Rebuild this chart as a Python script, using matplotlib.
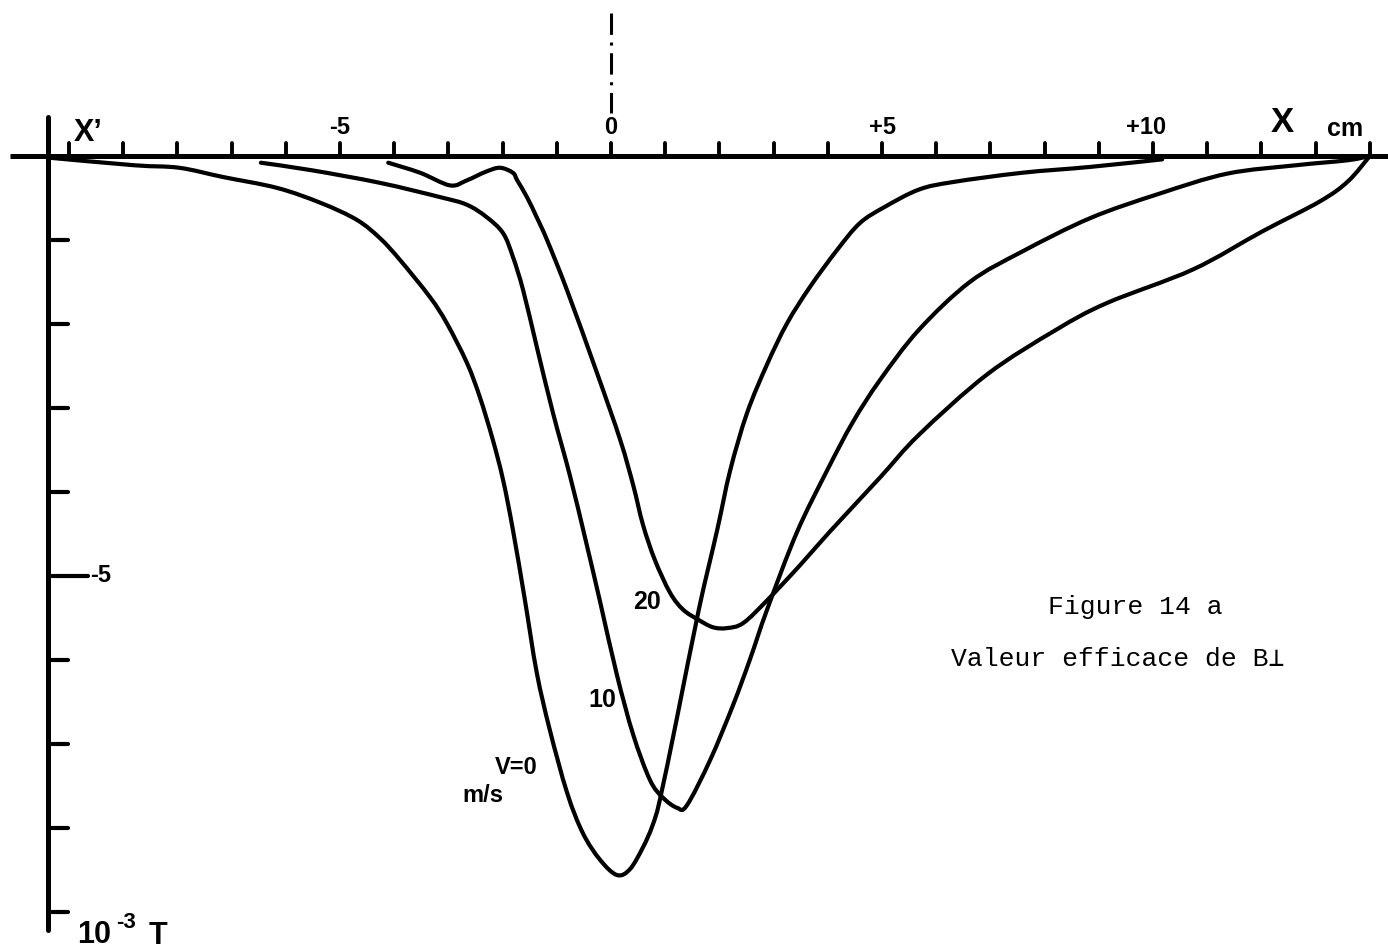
import matplotlib
matplotlib.use("Agg")
import matplotlib.pyplot as plt
from matplotlib.path import Path
from matplotlib.patches import PathPatch

# ---------------- data (x in cm, B in 1e-3 T) ----------------
x_v0 = [-10.37, -8.80, -7.97, -7.16, -6.16, -5.35, -4.69, -4.26, -3.89, -3.34,
        -3.03, -2.66, -2.42, -2.18, -1.99, -1.81, -1.59, -1.37, -1.13, -0.81,
        -0.52, -0.20, 0.11, 0.35, 0.59, 0.76, 0.90, 1.22, 1.62, 1.96,
        2.20, 2.51, 2.88, 3.25, 3.67, 4.17, 4.59, 5.04, 5.68, 6.31,
        7.58, 8.84, 10.17]
b_v0 = [-0.02, -0.11, -0.14, -0.25, -0.38, -0.56, -0.76, -0.98, -1.24, -1.68,
        -1.99, -2.46, -2.87, -3.38, -3.86, -4.45, -5.28, -6.15, -6.83, -7.58,
        -8.06, -8.38, -8.56, -8.49, -8.23, -7.98, -7.67, -6.68, -5.40, -4.45,
        -3.74, -3.06, -2.48, -1.99, -1.56, -1.12, -0.80, -0.61, -0.40, -0.31,
        -0.20, -0.13, -0.04]

x_v10 = [-6.46, -5.52, -4.26, -3.15, -2.66, -2.29, -1.99, -1.81, -1.62, -1.37,
         -1.07, -0.76, -0.48, -0.20, 0.11, 0.41, 0.72, 0.96, 1.22, 1.40,
         1.83, 2.25, 2.56, 2.88, 3.43, 3.99, 4.46, 4.96, 5.68, 6.62,
         7.58, 8.84, 10.11, 11.37, 12.64, 13.60, 14.00]
b_v10 = [-0.08, -0.17, -0.32, -0.49, -0.58, -0.73, -0.92, -1.20, -1.60, -2.27,
         -3.06, -3.80, -4.54, -5.31, -6.18, -6.89, -7.43, -7.64, -7.76, -7.73,
         -7.19, -6.54, -6.00, -5.40, -4.48, -3.74, -3.17, -2.67, -2.07, -1.50,
         -1.14, -0.74, -0.45, -0.21, -0.11, -0.05, 0.00]

x_v20 = [-4.11, -3.52, -2.97, -2.66, -2.32, -2.05, -1.81, -1.73, -1.55, -1.37,
         -1.18, -0.81, -0.26, 0.17, 0.41, 0.59, 0.81, 1.09, 1.33, 1.61,
         1.88, 2.14, 2.44, 2.88, 3.49, 4.04, 4.96, 5.68, 6.94, 8.21,
         9.15, 10.74, 12.01, 13.08, 13.60, 14.00]
b_v20 = [-0.08, -0.20, -0.35, -0.29, -0.19, -0.14, -0.20, -0.29, -0.49, -0.73,
         -1.00, -1.60, -2.58, -3.38, -3.92, -4.39, -4.81, -5.20, -5.40, -5.52,
         -5.61, -5.62, -5.56, -5.29, -4.87, -4.47, -3.83, -3.32, -2.60, -2.07,
         -1.75, -1.35, -0.90, -0.54, -0.30, 0.00]

x_ticks = list(range(-10, 15))
x_tick_labels = {-5: "-5", 0: "0", 5: "+5", 10: "+10"}
y_ticks = list(range(-1, -10, -1))
y_tick_labels = {-5: "-5"}

curve_labels = ["V=0", "10", "20"]

# ---------------- layout ----------------
PX_X0, PX_PER_CM = 611.0, 54.2
PX_Y0, PX_PER_UNIT = 156.0, 84.0


def P(px, py):
    """pixel position in the 1388x951 canvas -> data coordinates"""
    return (px - PX_X0) / PX_PER_CM, (PX_Y0 - py) / PX_PER_UNIT


def smooth_path(xs, ys):
    """Path through the read points, drawn as Catmull-Rom style Bezier segments."""
    pts = list(zip(xs, ys))
    n = len(pts)
    verts = [pts[0]]
    codes = [Path.MOVETO]
    for i in range(n - 1):
        p0 = pts[i - 1] if i > 0 else pts[i]
        p1 = pts[i]
        p2 = pts[i + 1]
        p3 = pts[i + 2] if i + 2 < n else pts[i + 1]
        c1 = (p1[0] + (p2[0] - p0[0]) / 6.0, p1[1] + (p2[1] - p0[1]) / 6.0)
        c2 = (p2[0] - (p3[0] - p1[0]) / 6.0, p2[1] - (p3[1] - p1[1]) / 6.0)
        verts += [c1, c2, p2]
        codes += [Path.CURVE4, Path.CURVE4, Path.CURVE4]
    return Path(verts, codes)


fig = plt.figure(figsize=(13.88, 9.51), dpi=100)
fig.patch.set_facecolor("white")
ax = fig.add_axes([0, 0, 1, 1])
x_lo, y_hi = P(0, 0)
x_hi, y_lo = P(1388, 951)
ax.set_xlim(x_lo, x_hi)
ax.set_ylim(y_lo, y_hi)
ax.axis("off")

INK = "black"
sans = ["Liberation Sans", "DejaVu Sans"]

# x axis
xa0, _ = P(10, 0)
ax.plot([xa0, x_hi], [0, 0], color=INK, lw=3.6, solid_capstyle="butt")
tick_h = 13 / PX_PER_UNIT
for t in x_ticks:
    ax.plot([t, t], [0, tick_h], color=INK, lw=2.8, solid_capstyle="round")
for t, s in x_tick_labels.items():
    xt = t - 0.12 if t == 10 else t
    ax.text(xt, P(0, 128)[1], s, ha="center", va="center", fontsize=17,
            fontweight="bold", family=sans, color=INK)

# y axis
ya_x, ya_top = P(48, 117)
_, ya_bot = P(48, 930)
ax.plot([ya_x, ya_x], [ya_top, ya_bot], color=INK, lw=3.6, solid_capstyle="round")
tick_w = 20 / PX_PER_CM
for t in y_ticks:
    w = 2 * tick_w if t in y_tick_labels else tick_w
    ax.plot([ya_x, ya_x + w], [t, t], color=INK, lw=3.0, solid_capstyle="round")
for t, s in y_tick_labels.items():
    ax.text(ya_x + 2 * tick_w + 0.03, t, s, ha="left", va="center", fontsize=17,
            fontweight="bold", family=sans, color=INK)

# axis names
ax.text(*P(88, 133), "X\u2019", ha="center", va="center", fontsize=22,
        fontweight="bold", family=sans, color=INK)
ax.text(*P(1282, 123), "X", ha="center", va="center", fontsize=25,
        fontweight="bold", family=sans, color=INK)
ax.text(*P(1345, 129), "cm", ha="center", va="center", fontsize=18,
        fontweight="bold", family=sans, color=INK)
ax.text(*P(94, 943), "10", ha="center", va="baseline", fontsize=22,
        fontweight="bold", family=sans, color=INK)
ax.text(*P(126, 928), "-3", ha="center", va="baseline", fontsize=16,
        fontweight="bold", family=sans, color=INK)
ax.text(*P(158, 944), "T", ha="center", va="baseline", fontsize=22,
        fontweight="bold", family=sans, color=INK)

# symmetry line (dash-dot) above the origin
_, d_top = P(0, 13)
_, d_bot = P(0, 113)
ax.plot([0, 0], [d_top, d_bot], color=INK, lw=2.2,
        linestyle=(0, (7.0, 2.5, 1.0, 2.5)), dash_capstyle="butt")

# curves
for xs, bs in [(x_v0, b_v0), (x_v10, b_v10), (x_v20, b_v20)]:
    ax.add_patch(PathPatch(smooth_path(xs, bs), facecolor="none", edgecolor=INK,
                           lw=3.0, joinstyle="round", capstyle="round"))

# curve labels
ax.text(*P(516, 767), curve_labels[0], ha="center", va="center", fontsize=17,
        fontweight="bold", family=sans, color=INK)
ax.text(*P(483, 796), "m/s", ha="center", va="center", fontsize=17,
        fontweight="bold", family=sans, color=INK)
ax.text(*P(602, 700), curve_labels[1], ha="center", va="center", fontsize=18,
        fontweight="bold", family=sans, color=INK)
ax.text(*P(647, 602), curve_labels[2], ha="center", va="center", fontsize=18,
        fontweight="bold", family=sans, color=INK)

# caption
mono = ["Liberation Mono", "DejaVu Sans Mono"]
ax.text(*P(1135, 607), "Figure 14 a", ha="center", va="center", fontsize=19,
        family=mono, color=INK)
ax.text(*P(1118, 659), "Valeur efficace de B\u22a5", ha="center", va="center",
        fontsize=19, family=mono, color=INK)

fig.savefig("out.png", dpi=100, facecolor="white")
